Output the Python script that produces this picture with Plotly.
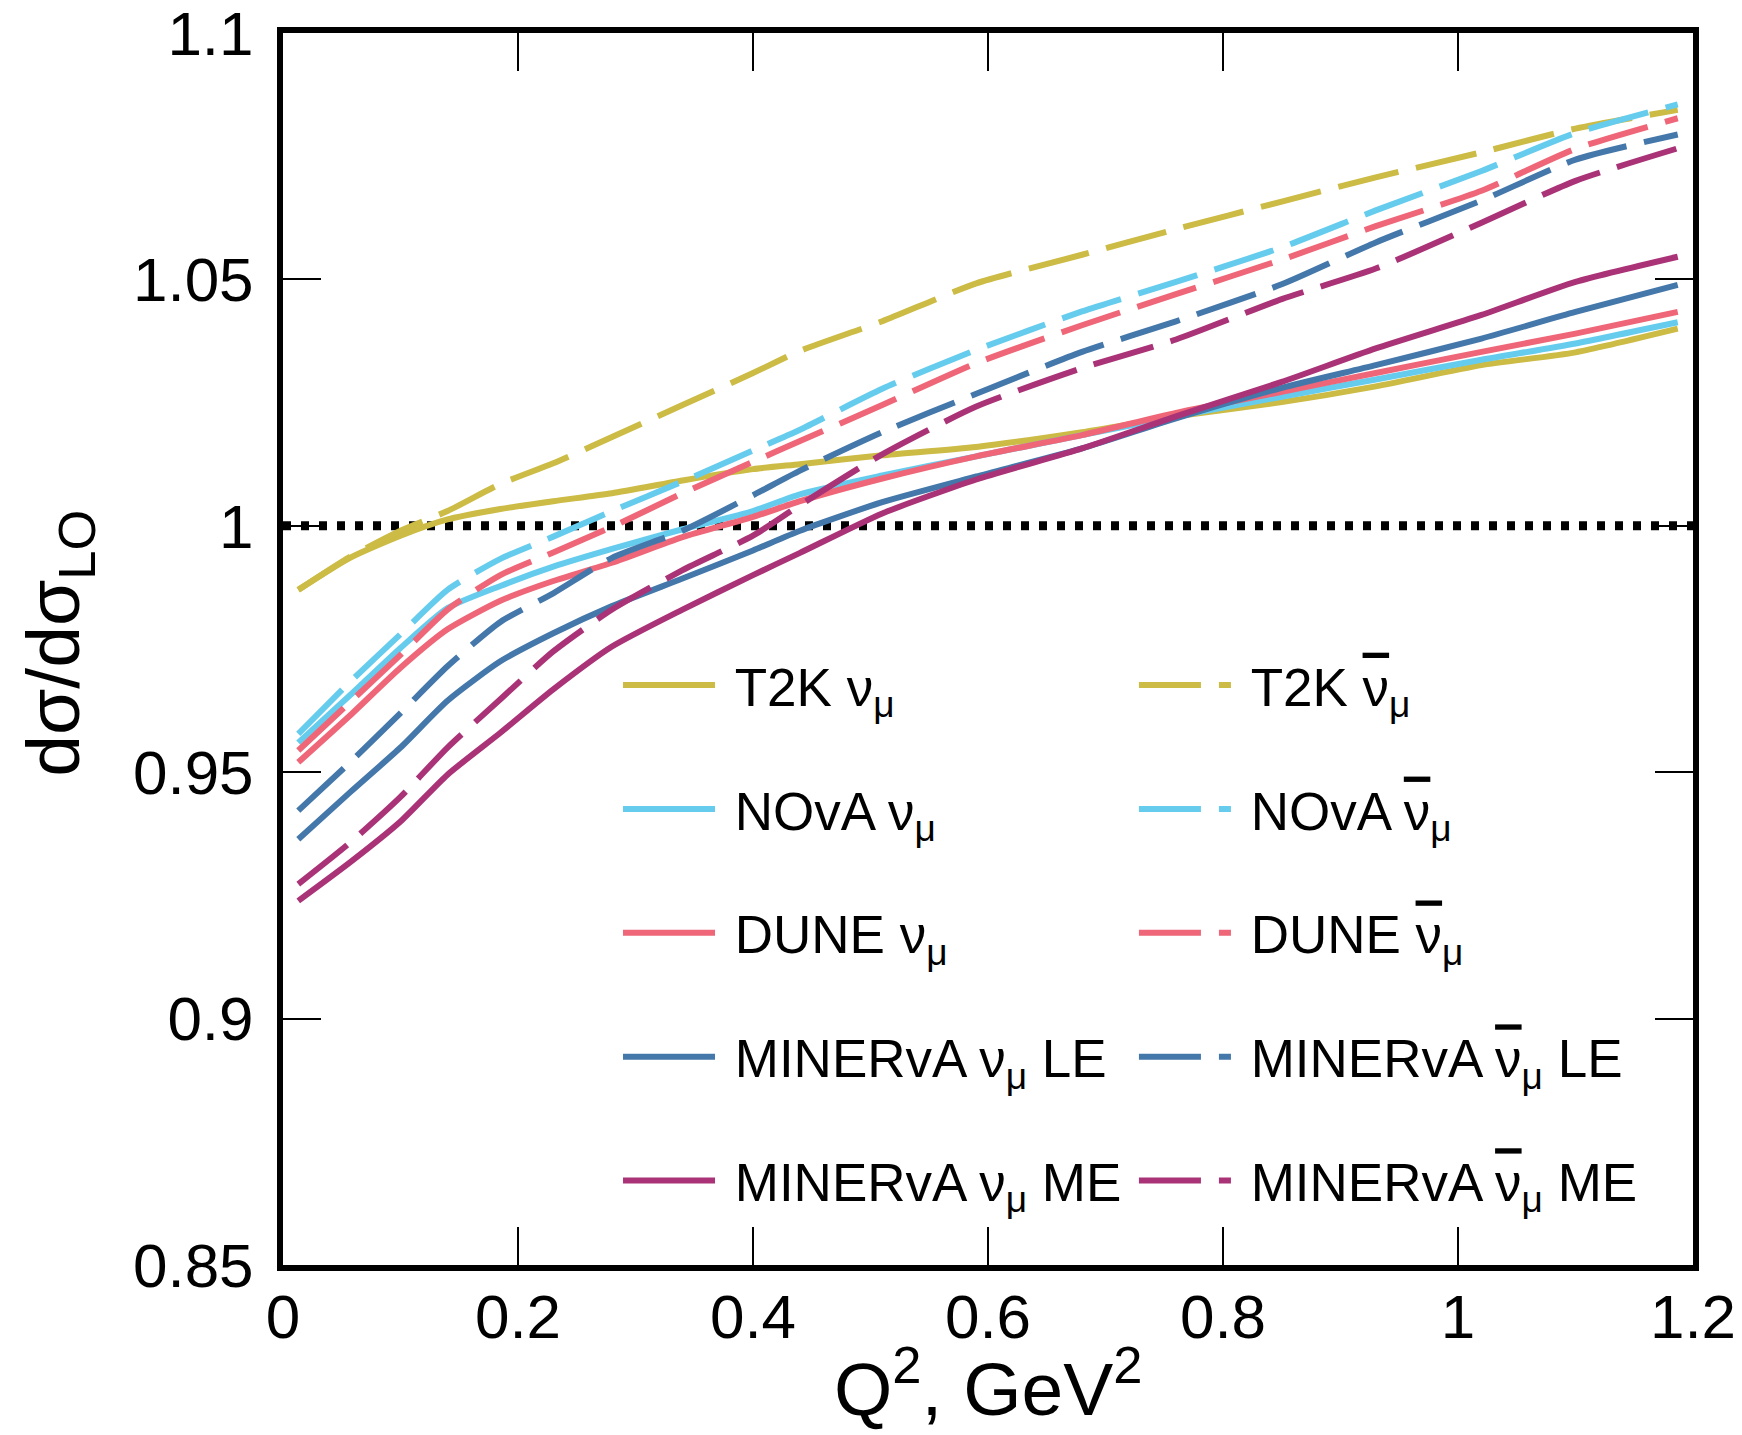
import plotly.graph_objects as go

# ---------------- data ----------------
q2 = [0.013, 0.057, 0.10, 0.14, 0.185, 0.23, 0.28, 0.34, 0.40, 0.44,
      0.51, 0.59, 0.68, 0.76, 0.85, 0.93, 1.02, 1.10, 1.187]

t2k_nu = [0.987, 0.9935, 0.998, 1.0013, 1.0034, 1.005, 1.0066, 1.0092, 1.0115, 1.0125,
          1.0143, 1.016, 1.019, 1.0222, 1.0251, 1.0283, 1.0326, 1.0352, 1.040]
nova_nu = [0.956, 0.9656, 0.9752, 0.9833, 0.9878, 0.9917, 0.9953, 0.9993, 1.003, 1.0064,
           1.0102, 1.0141, 1.0184, 1.0222, 1.0262, 1.0297, 1.0337, 1.037, 1.0413]
dune_nu = [0.952, 0.9615, 0.9712, 0.979, 0.9848, 0.9888, 0.9925, 0.9977, 1.0018, 1.005,
           1.0096, 1.0141, 1.0184, 1.0229, 1.0272, 1.031, 1.0353, 1.039, 1.0434]
minle_nu = [0.9364, 0.9459, 0.955, 0.9645, 0.9725, 0.9782, 0.9837, 0.9893, 0.995, 0.999,
            1.0048, 1.010, 1.0157, 1.0218, 1.028, 1.0326, 1.038, 1.0434, 1.0489]
minme_nu = [0.9239, 0.9317, 0.940, 0.9495, 0.958, 0.9668, 0.9755, 0.983, 0.990, 0.9945,
            1.0025, 1.0094, 1.0157, 1.0222, 1.0292, 1.036, 1.0428, 1.0495, 1.0546]

t2k_nubar = [0.987, 0.9937, 0.999, 1.003, 1.0085, 1.0127, 1.018, 1.0245, 1.031, 1.0355,
             1.0415, 1.0492, 1.055, 1.0602, 1.0658, 1.0707, 1.0758, 1.0806, 1.0844]
nova_nubar = [0.9578, 0.9683, 0.978, 0.987, 0.9933, 0.9978, 1.003, 1.009, 1.0153, 1.0195,
              1.0278, 1.0357, 1.0435, 1.0495, 1.0565, 1.064, 1.072, 1.0797, 1.0855]
dune_nubar = [0.9544, 0.9642, 0.9738, 0.983, 0.990, 0.9946, 0.9998, 1.0066, 1.013, 1.0172,
              1.0245, 1.033, 1.0407, 1.047, 1.054, 1.0608, 1.068, 1.0765, 1.0827]
minle_nubar = [0.9422, 0.952, 0.962, 0.9715, 0.9805, 0.9863, 0.9935, 0.999, 1.0062, 1.0112,
               1.019, 1.0268, 1.0353, 1.0415, 1.049, 1.0575, 1.066, 1.0743, 1.0794]
minme_nubar = [0.9273, 0.9357, 0.945, 0.955, 0.9648, 0.9745, 0.983, 0.991, 0.998, 1.0042,
               1.0145, 1.0242, 1.032, 1.0378, 1.046, 1.0522, 1.0615, 1.070, 1.0766]

ref_x = [0.0, 1.2]
ref_y = [1.0, 1.0]

x_ticks = [0, 0.2, 0.4, 0.6, 0.8, 1.0, 1.2]
x_ticktext = ["0", "0.2", "0.4", "0.6", "0.8", "1", "1.2"]
y_ticks = [0.85, 0.90, 0.95, 1.00, 1.05, 1.10]
y_ticktext = ["0.85", "0.9", "0.95", "1", "1.05", "1.1"]

x_title = "Q<sup>2</sup>, GeV<sup>2</sup>"
y_title = "dσ/dσ<sub>LO</sub>"

NB = "\u00a0"
BAR = "<span style='text-decoration:overline'>ν</span>"
names_nu = [NB + "T2K ν<sub>μ</sub>", NB + "NOvA ν<sub>μ</sub>", NB + "DUNE ν<sub>μ</sub>",
            NB + "MINERvA ν<sub>μ</sub> LE", NB + "MINERvA ν<sub>μ</sub> ME"]
names_nubar = [NB + "T2K " + BAR + "<sub>μ</sub>", NB + "NOvA " + BAR + "<sub>μ</sub>",
               NB + "DUNE " + BAR + "<sub>μ</sub>", NB + "MINERvA " + BAR + "<sub>μ</sub> LE",
               NB + "MINERvA " + BAR + "<sub>μ</sub> ME"]
colors = ["#CCBB44", "#66CCEE", "#EE6677", "#4477AA", "#AA3377"]

series_nu = [t2k_nu, nova_nu, dune_nu, minle_nu, minme_nu]
series_nubar = [t2k_nubar, nova_nubar, dune_nubar, minle_nubar, minme_nubar]

FONT = "Liberation Sans, Arial, Helvetica, sans-serif"

fig = go.Figure()

# reference dotted line at 1
fig.add_trace(go.Scatter(x=ref_x, y=ref_y, mode="lines", showlegend=False,
                         line=dict(color="black", width=9, dash="8px,10px"),
                         hoverinfo="skip"))

for i, (nm, ys, c) in enumerate(zip(names_nu, series_nu, colors)):
    fig.add_trace(go.Scatter(x=q2, y=ys, mode="lines", name=nm,
                             line=dict(color=c, width=6, shape="spline", smoothing=0.6),
                             legend="legend", legendgroup=f"a{i}"))
for i, (nm, ys, c) in enumerate(zip(names_nubar, series_nubar, colors)):
    fig.add_trace(go.Scatter(x=q2, y=ys, mode="lines", name=nm,
                             line=dict(color=c, width=6, dash="62px,18px",
                                       shape="spline", smoothing=0.6),
                             legend="legend2", legendgroup=f"b{i}"))

legend_common = dict(font=dict(family=FONT, size=53, color="black"),
                     bgcolor="rgba(0,0,0,0)", borderwidth=0,
                     itemwidth=92, tracegroupgap=52, yanchor="top", xanchor="left",
                     traceorder="grouped", itemclick=False)

fig.update_layout(
    width=1742, height=1435,
    margin=dict(l=275, r=57, t=25, b=178, autoexpand=False),
    paper_bgcolor="white", plot_bgcolor="white",
    font=dict(family=FONT, color="black"),
    legend=dict(x=0.2376, y=0.504, **legend_common),
    legend2=dict(x=0.6035, y=0.504, **legend_common),
    xaxis=dict(range=[-0.0000001, 1.2000001], tickvals=x_ticks, ticktext=x_ticktext,
               showgrid=False, zeroline=False, showline=True, linewidth=6,
               linecolor="black", mirror="ticks", ticks="inside", ticklen=38,
               tickwidth=2, tickcolor="black", ticklabelstandoff=-7,
               ticklabeloverflow="allow",
               tickfont=dict(family=FONT, size=62, color="black")),
    yaxis=dict(range=[0.8499999, 1.1000001], tickvals=y_ticks, ticktext=y_ticktext,
               showgrid=False, zeroline=False, showline=True, linewidth=6,
               linecolor="black", mirror="ticks", ticks="inside", ticklen=38,
               tickwidth=2, tickcolor="black", ticklabelstandoff=11,
               ticklabeloverflow="allow",
               tickfont=dict(family=FONT, size=62, color="black")),
    annotations=[
        dict(text=x_title, xref="paper", yref="paper", x=0.5, y=-0.0957,
             xanchor="center", yanchor="middle", showarrow=False,
             font=dict(family=FONT, size=75, color="black")),
        dict(text=y_title, xref="paper", yref="paper", x=-0.159, y=0.505,
             xanchor="center", yanchor="middle", textangle=-90, showarrow=False,
             font=dict(family=FONT, size=75, color="black")),
    ],
)

fig.write_html("out.html")
